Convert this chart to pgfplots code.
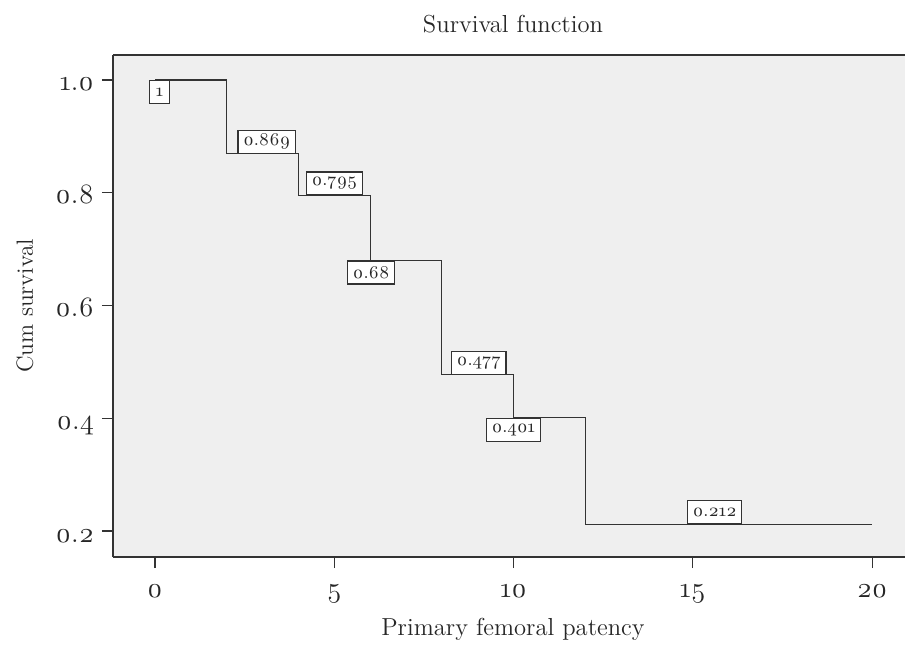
\documentclass[border=0pt]{standalone}
\usepackage{fontspec}
\setmainfont{Latin Modern Roman}[Numbers=OldStyle]
\usepackage{pgfplots}
\pgfplotsset{compat=1.18}
\definecolor{bgc}{HTML}{EFEFEF}
\definecolor{lnc}{HTML}{333333}
\tikzset{lbl/.style={draw=lnc, fill=white, line width=0.6pt, font=\fontsize{9}{10}\selectfont, inner xsep=2.6pt, inner ysep=0pt, minimum height=11.5pt, text=black!85}}
\begin{document}
\begin{tikzpicture}
\begin{axis}[
  at={(0,0)}, anchor=south west,
  scale only axis, width=400pt, height=251pt,
  xmin=-1.1715, xmax=21.14, ymin=0.1539, ymax=1.0443,
  axis background/.style={fill=bgc},
  axis line style={lnc, line width=0.6pt},
  separate axis lines,
  axis x line*=bottom, axis y line*=left,
  xtick={0,5,10,15,20}, ytick={0.2,0.4,0.6,0.8,1.0},
  tick align=outside, major tick length=5.5pt,
  tick style={lnc, line width=0.6pt},
  /pgf/number format/assume math mode=true,
  ticklabel style={font=\fontsize{14}{16}\selectfont, text=black!85, inner sep=0pt},
  xticklabel style={anchor=base, yshift=-14.5pt},
  yticklabel style={anchor=base east, xshift=-3.8pt, yshift=-5.5pt,
    /pgf/number format/fixed, /pgf/number format/fixed zerofill, /pgf/number format/precision=1},
  xlabel={Primary femoral patency}, ylabel={Cum survival},
  xlabel style={at={(axis description cs:0.5,-0.1554)}, anchor=base, font=\fontsize{12.3}{14}\selectfont, text=black!85},
  ylabel style={at={(axis description cs:-0.1,0.5)}, anchor=base, font=\fontsize{11.7}{14}\selectfont, text=black!85},
  every axis title shift=0pt,
  title={Survival function},
  title style={at={(axis description cs:0.5,1.0458)}, anchor=base, font=\fontsize{12.3}{14}\selectfont, text=black!85},
  clip=false,
]
\addplot[lnc, line width=0.6pt, const plot] coordinates {
  (0,1) (2,0.869) (4,0.795) (6,0.68) (8,0.477) (10,0.401) (12,0.212) (20,0.212)
};
\node[lbl, anchor=north west, minimum width=10pt, inner xsep=1pt] at (axis cs:-0.17,1) {1};
\node[lbl, anchor=south west] at (axis cs:2.30,0.869) {0.869};
\node[lbl, anchor=south west] at (axis cs:4.21,0.795) {0.795};
\node[lbl, anchor=north west] at (axis cs:5.36,0.68) {0.68};
\node[lbl, anchor=south west] at (axis cs:8.26,0.477) {0.477};
\node[lbl, anchor=north west] at (axis cs:9.23,0.401) {0.401};
\node[lbl, anchor=south west] at (axis cs:14.84,0.212) {0.212};
\draw[lnc, line width=0.6pt] (axis cs:-1.1715,1.0443) -- (axis cs:21.14,1.0443);
\end{axis}
\pgfresetboundingbox
\path[use as bounding box] (-56.5pt,-45.5pt) rectangle (396pt,278.5pt);
\end{tikzpicture}
\end{document}
